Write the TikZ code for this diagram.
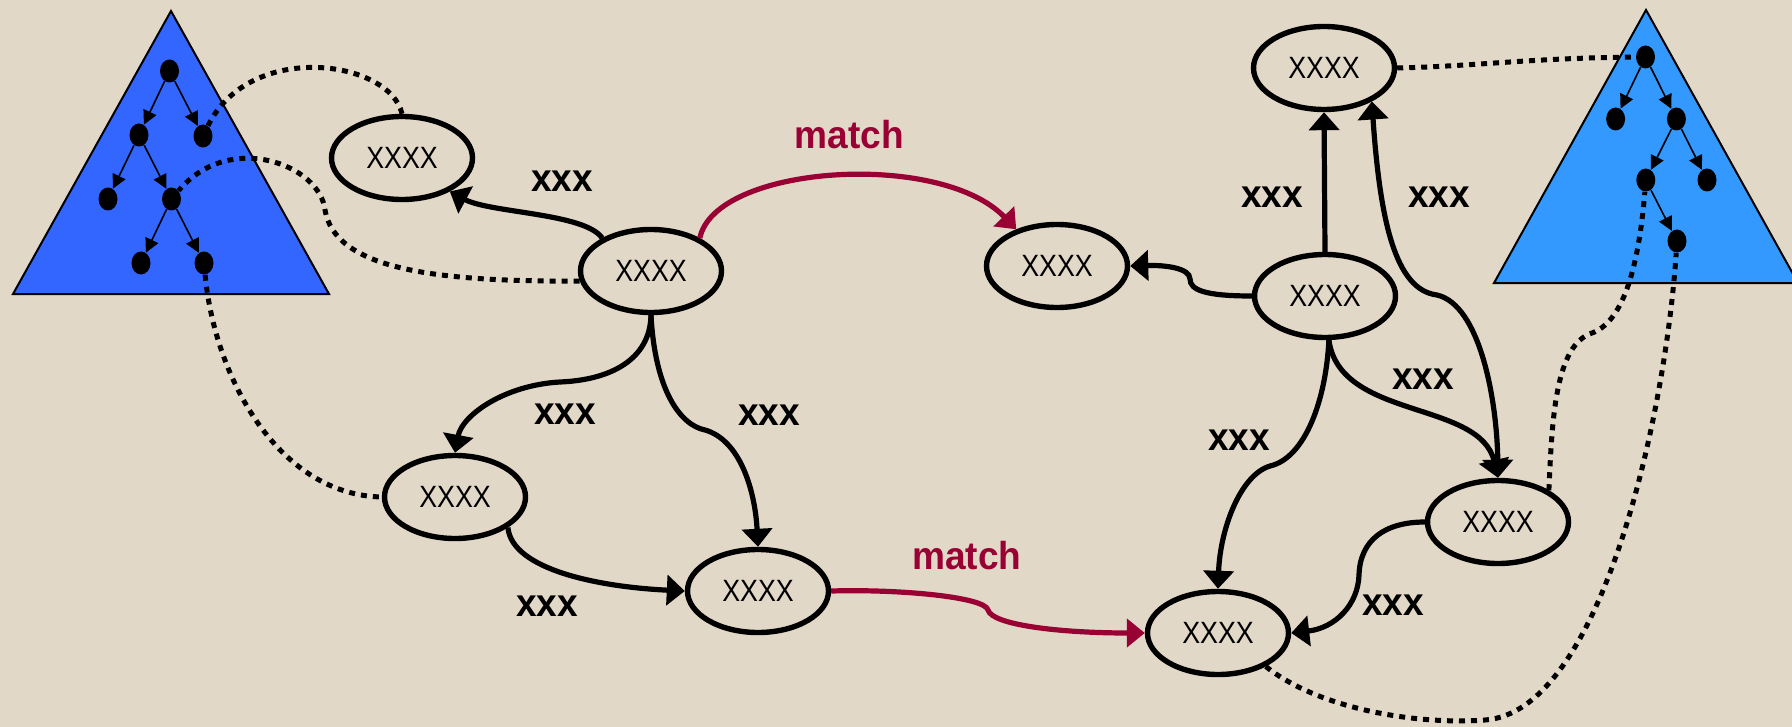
\documentclass[tikz,border=0pt]{standalone}
\usepackage{fontspec}
\setmainfont{Liberation Sans}
\newfontfamily\nodefont[FakeStretch=0.87]{Liberation Sans}
\newfontfamily\labfont[FakeStretch=0.95]{Liberation Sans}
\usetikzlibrary{arrows.meta,shapes.geometric}
\definecolor{bgc}{RGB}{226,216,200}
\definecolor{matchred}{RGB}{153,0,51}
\definecolor{blueL}{RGB}{51,102,255}
\definecolor{blueR}{RGB}{51,153,255}
\tikzset{
  ell/.style={ellipse, draw=black, line width=2.7pt, minimum width=70.5pt, minimum height=41.5pt, inner sep=0pt,
    font=\nodefont\fontsize{15.4}{18}\selectfont},
  tnode/.style={ellipse, fill=black, minimum width=9.5pt, minimum height=11.5pt, inner sep=0pt},
  tarr/.style={draw=black, line width=0.8pt, -{Triangle[length=7pt,width=7pt]}},
  conn/.style={draw=black, line width=2.6pt, -{Triangle[length=9pt,width=15pt]}},
  redconn/.style={draw=matchred, line width=2.6pt, -{Triangle[length=9pt,width=14pt]}},
  dots/.style={draw=black, line width=2.5pt, dash pattern=on 3pt off 3pt},
  lab/.style={font=\labfont\bfseries\fontsize{19.5}{23}\selectfont, inner sep=0pt},
  mlab/.style={lab, text=matchred},
  tri/.style={draw=black, line width=1pt}
}
\begin{document}
\begin{tikzpicture}[x=0.5pt, y=-0.5pt]
\fill[bgc] (0,0) rectangle (1792,727);
\useasboundingbox (0,0) rectangle (1792,727);

% triangles
\filldraw[tri, fill=blueL] (171,11) -- (329,294) -- (13,294) -- cycle;
\filldraw[tri, fill=blueR] (1646,10) -- (1798,283) -- (1494,283) -- cycle;

% left tree
\node[tnode] (tl1) at (169.5,71) {};
\node[tnode] (tl11) at (139,135) {};
\node[tnode] (tl12) at (203,136) {};
\node[tnode] (tl21) at (108,199) {};
\node[tnode] (tl22) at (171.5,199) {};
\node[tnode] (tl31) at (141,263) {};
\node[tnode] (tl32) at (204,263) {};
\draw[tarr] (tl1) -- (tl11);
\draw[tarr] (tl1) -- (tl12);
\draw[tarr] (tl11) -- (tl21);
\draw[tarr] (tl11) -- (tl22);
\draw[tarr] (tl22) -- (tl31);
\draw[tarr] (tl22) -- (tl32);

% right tree
\node[tnode] (tr1) at (1645.5,57) {};
\node[tnode] (tr11) at (1615.6,119) {};
\node[tnode] (tr12) at (1676.4,119) {};
\node[tnode] (tr21) at (1645.8,180) {};
\node[tnode] (tr22) at (1707,180) {};
\node[tnode] (tr3) at (1677,241) {};
\draw[tarr] (tr1) -- (tr11);
\draw[tarr] (tr1) -- (tr12);
\draw[tarr] (tr12) -- (tr21);
\draw[tarr] (tr12) -- (tr22);
\draw[tarr] (tr21) -- (tr3);

% ellipses
\node[ell] (e1) at (402,158) {XXXX};
\node[ell] (e2) at (651,271) {XXXX};
\node[ell] (e3) at (1057,266) {XXXX};
\node[ell] (e4) at (1324,68) {XXXX};
\node[ell] (e5) at (1325,296) {XXXX};
\node[ell] (e6) at (455,497) {XXXX};
\node[ell] (e7) at (758,591) {XXXX};
\node[ell] (e8) at (1218,633) {XXXX};
\node[ell] (e9) at (1498,522) {XXXX};

% dotted links
\draw[dots] (e1.north) .. controls (390,60) and (250,40) .. (tl12);
\draw[dots] (e2.188) .. controls (430,282) and (335,268) .. (325,210) .. controls (320,165) and (230,130) .. (tl22);
\draw[dots] (tl32) .. controls (215,380) and (280,495) .. (e6.west);
\draw[dots] (e4.east) .. controls (1480,66) and (1530,58) .. (tr1);
\draw[dots] (e9.32) .. controls (1552,420) and (1555,345) .. (1592,333) .. controls (1628,320) and (1640,250) .. (tr21);
\draw[dots] (e8.-35) .. controls (1320,710) and (1420,725) .. (1485,720) .. controls (1600,712) and (1665,420) .. (tr3);

% connectors
\draw[conn] (e2.146) .. controls (585,213) and (490,213) .. (e1.-35);
\draw[redconn] (e2.34) .. controls (715,165) and (940,150) .. (e3.138);
\draw[conn] (e2.south) .. controls (650,360) and (610,380) .. (560,382) .. controls (505,385) and (462,415) .. (e6.north);
\draw[conn] (e2.south) .. controls (655,390) and (680,425) .. (705,430) .. controls (740,440) and (755,490) .. (e7.north);
\draw[conn] (e6.-30) .. controls (512,570) and (600,587) .. (e7.west);
\draw[redconn] (e7.east) .. controls (900,589) and (985,597) .. (988,610) .. controls (992,625) and (1060,633) .. (e8.west);
\draw[conn] (e5.west) .. controls (1205,296) and (1190,290) .. (1190,279) .. controls (1190,268) and (1165,265) .. (e3.east);
\draw[conn] (e5.north) -- (e4.south);
\draw[draw=black, line width=2.6pt, {Triangle[length=9pt,width=15pt]}-{Triangle[length=9pt,width=15pt]}] (e4.-35) .. controls (1380,220) and (1395,290) .. (1437,295) .. controls (1480,305) and (1497,400) .. (e9.north);
\draw[conn] (e5.-85) .. controls (1340,420) and (1480,400) .. (e9.north);
\draw[conn] (e5.-85) .. controls (1326,400) and (1305,458) .. (1270,466) .. controls (1240,475) and (1220,530) .. (e8.north);
\draw[conn] (e9.west) .. controls (1385,522) and (1360,540) .. (1359,575) .. controls (1358,605) and (1335,628) .. (e8.east);

% labels
\node[lab] (l1) at (562,181) {xxx};
\node[lab] (l2) at (565,414) {xxx};
\node[lab] (l3) at (769,415) {xxx};
\node[lab] (l4) at (547,606) {xxx};
\node[lab] (l5) at (1272,197) {xxx};
\node[lab] (l6) at (1439,197) {xxx};
\node[lab] (l7) at (1423,379) {xxx};
\node[lab] (l8) at (1239,440) {xxx};
\node[lab] (l9) at (1393,605) {xxx};
\node[mlab] (m1) at (849.5,135) {match};
\node[mlab] (m2) at (967,556) {match};
\end{tikzpicture}
\end{document}
